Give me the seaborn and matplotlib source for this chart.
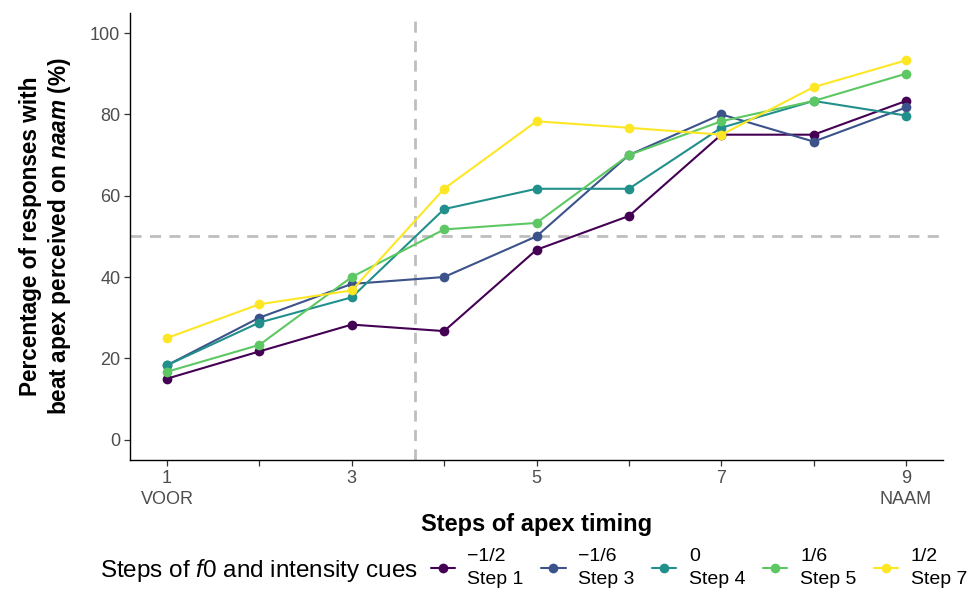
import pandas as pd
import matplotlib.pyplot as plt
import seaborn as sns

sns.set_theme(style="ticks")
plt.rcParams['font.family'] = ['Liberation Sans', 'DejaVu Sans']
plt.rcParams['mathtext.fontset'] = 'custom'
plt.rcParams['mathtext.rm'] = 'Liberation Sans'
plt.rcParams['mathtext.it'] = 'Liberation Sans:italic'
plt.rcParams['mathtext.bf'] = 'Liberation Sans:bold'
plt.rcParams['mathtext.bfit'] = 'Liberation Sans:bold:italic'

apex_steps = [1, 2, 3, 4, 5, 6, 7, 8, 9]
cue_labels = ["\u22121/2\nStep 1", "\u22121/6\nStep 3", "0\nStep 4", "1/6\nStep 5", "1/2\nStep 7"]

step1 = [15.0, 21.7, 28.3, 26.7, 46.7, 55.0, 75.0, 75.0, 83.3]
step3 = [18.3, 30.0, 38.3, 40.0, 50.0, 70.0, 80.0, 73.3, 81.7]
step4 = [18.3, 28.8, 35.0, 56.7, 61.7, 61.7, 76.7, 83.3, 79.7]
step5 = [16.7, 23.3, 40.0, 51.7, 53.3, 70.0, 78.3, 83.3, 90.0]
step7 = [25.0, 33.3, 36.7, 61.7, 78.3, 76.7, 75.0, 86.7, 93.3]

x_ticklabels = ["1\nVOOR", "", "3", "", "5", "", "7", "", "9\nNAAM"]
boundary_x = 3.68
chance_y = 50

rows = []
for lab, vals in zip(cue_labels, [step1, step3, step4, step5, step7]):
    for x, v in zip(apex_steps, vals):
        rows.append({"apex": x, "pct": v, "cue": lab})
df = pd.DataFrame(rows)

palette = ["#440154", "#3B528B", "#21908C", "#5DC863", "#FDE725"]

fig = plt.figure(figsize=(9.74, 5.97), dpi=100)
ax = fig.add_axes([130 / 974, 1 - 460 / 597, (943 - 130) / 974, (460 - 12.7) / 597])

ax.axvline(boundary_x, color="#BEBEBE", lw=2, ls=(0, (4, 3)), zorder=1)
ax.axhline(chance_y, color="#BEBEBE", lw=2, ls=(0, (4, 3)), zorder=1)

sns.lineplot(data=df, x="apex", y="pct", hue="cue", palette=palette,
             marker="o", markersize=7, markeredgewidth=0, linewidth=1.5,
             ax=ax, zorder=3)

handles, labels = ax.get_legend_handles_labels()
ax.get_legend().remove()

ax.set_xlim(0.6, 9.4)
ax.set_ylim(-5, 105)
ax.set_xticks(apex_steps)
ax.set_xticklabels(x_ticklabels, linespacing=1.3)
ax.set_yticks([0, 20, 40, 60, 80, 100])
ax.tick_params(labelsize=13, colors="#333333", length=4, width=0.9, labelcolor="#4D4D4D", pad=3)
for s in ["top", "right"]:
    ax.spines[s].set_visible(False)
for s in ["left", "bottom"]:
    ax.spines[s].set_color("black")
    ax.spines[s].set_linewidth(1)

ax.set_xlabel("Steps of apex timing", fontsize=17, fontweight="bold", labelpad=4, color="black")
ax.set_ylabel("Percentage of responses with\nbeat apex perceived on $\\mathbfit{naam}$ (%)",
              fontsize=16.3, fontweight="bold", labelpad=12, color="black")

fig.text(100 / 974, 1 - 571 / 597, "Steps of $\\it{f}$0 and intensity cues",
         fontsize=17.5, ha="left", va="center", color="black")
leg = fig.legend(handles, labels, ncol=5, loc="center left",
                 bbox_to_anchor=(413 / 974, 1 - 568 / 597), frameon=False,
                 fontsize=14, handlelength=1.25, handletextpad=0.65, columnspacing=0.9)
for t in leg.get_texts():
    t.set_linespacing(1.45)
    t.set_color("black")

fig.savefig("out.png", dpi=100)
